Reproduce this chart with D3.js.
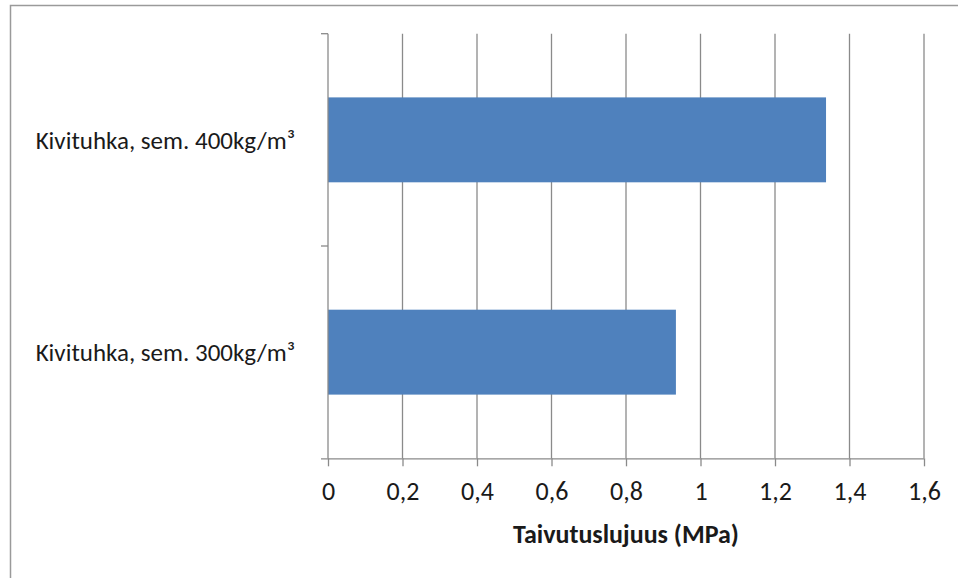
<!DOCTYPE html>
<html>
<head>
<meta charset="utf-8">
<script src="https://cdn.jsdelivr.net/npm/d3@7"></script>
<style>
  html, body { margin: 0; padding: 0; background: #fff; }
  svg { display: block; }
  text { font-family: Calibri, Carlito, Lato, "Open Sans", sans-serif; fill: #1a1a1a; }
</style>
</head>
<body>
<svg id="chart" width="958" height="578"></svg>
<script>
// Flexural strength of stone-ash mixes by cement content
const categories = ["Kivituhka, sem. 400kg/m³", "Kivituhka, sem. 300kg/m³"];
const values = [1.337, 0.934];
const xTicks = [0, 0.2, 0.4, 0.6, 0.8, 1, 1.2, 1.4, 1.6];
const xTitle = "Taivutuslujuus (MPa)";

const svg = d3.select("#chart");
const W = 958, H = 578;
const plot = { left: 328, right: 924, top: 33.7, bottom: 458.3 };
const axisColor = "#8a8a8a";
const fontStack = "Calibri, Carlito, Lato, 'Open Sans', sans-serif";

// chart frame (right and bottom edges fall outside the view)
svg.append("rect")
  .attr("x", 10.5).attr("y", 5.5)
  .attr("width", W + 20).attr("height", H + 20)
  .attr("fill", "#fff")
  .attr("stroke", "#9a9a9a").attr("stroke-width", 1.5);

const x = d3.scaleLinear().domain([0, 1.6]).range([plot.left, plot.right]);
const y = d3.scaleBand().domain(categories).range([plot.top, plot.bottom])
  .paddingInner(0.6).paddingOuter(0.3);

// vertical gridlines
svg.append("g").selectAll("line")
  .data(xTicks.filter(d => d > 0))
  .join("line")
  .attr("x1", d => x(d)).attr("x2", d => x(d))
  .attr("y1", plot.top).attr("y2", plot.bottom)
  .attr("stroke", axisColor).attr("stroke-width", 1.3);

// bars
svg.append("g").selectAll("rect")
  .data(categories.map((c, i) => ({ c, v: values[i] })))
  .join("rect")
  .attr("x", x(0))
  .attr("y", d => y(d.c))
  .attr("width", d => x(d.v) - x(0))
  .attr("height", y.bandwidth())
  .attr("fill", "#4f81bd");

// x axis
const fmt = d => String(d).replace(".", ",");
const xAxis = svg.append("g")
  .attr("transform", `translate(0,${plot.bottom})`)
  .call(d3.axisBottom(x).tickValues(xTicks).tickFormat(fmt).tickSize(8).tickSizeOuter(0).tickPadding(15));
xAxis.attr("font-size", 26).attr("font-family", fontStack);
xAxis.select(".domain").attr("stroke", axisColor).attr("stroke-width", 1.3)
  .attr("d", `M${plot.left - 7},0.5H${plot.right}`);
xAxis.selectAll(".tick line").attr("stroke", axisColor).attr("stroke-width", 1.3);
xAxis.selectAll(".tick text").attr("fill", "#1a1a1a");

// y axis: line with ticks between categories
const yAxis = svg.append("g");
yAxis.append("line")
  .attr("x1", plot.left).attr("x2", plot.left)
  .attr("y1", plot.top).attr("y2", plot.bottom)
  .attr("stroke", axisColor).attr("stroke-width", 1.3);
const boundaries = [plot.top, ...categories.slice(1).map(c => y(c) - y.step() * y.paddingInner() / 2)];
yAxis.selectAll("line.tk")
  .data(boundaries)
  .join("line").attr("class", "tk")
  .attr("x1", plot.left - 7).attr("x2", plot.left)
  .attr("y1", d => d).attr("y2", d => d)
  .attr("stroke", axisColor).attr("stroke-width", 1.3);

// category labels
yAxis.selectAll("text")
  .data(categories)
  .join("text")
  .attr("x", plot.left - 33)
  .attr("y", d => y(d) + y.bandwidth() / 2)
  .attr("dy", "0.35em")
  .attr("text-anchor", "end")
  .style("font-size", "25px")
  .text(d => d);

// axis title
svg.append("text")
  .attr("x", (plot.left + plot.right) / 2)
  .attr("y", 543)
  .attr("text-anchor", "middle")
  .style("font-size", "26px")
  .attr("font-weight", "bold")
  .text(xTitle);
</script>
</body>
</html>
